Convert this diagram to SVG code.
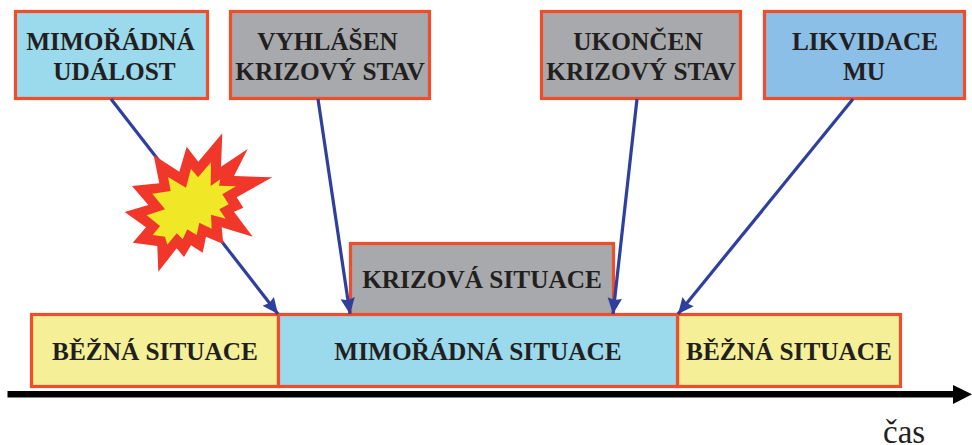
<svg xmlns="http://www.w3.org/2000/svg" width="972" height="445" viewBox="0 0 972 445">
<style>
.box{stroke:#f04e2b;stroke-width:3.2}
.t{font-family:"Liberation Serif","Times New Roman",serif;font-weight:700;font-size:25.300px;fill:#231f20;text-anchor:middle}
.c{stroke:#2e3f9e;stroke-width:3.200;fill:none;marker-end:url(#a)}
</style>
<defs>
<marker id="a" markerUnits="userSpaceOnUse" markerWidth="17" markerHeight="16" refX="16" refY="8" orient="auto"><path d="M0 0.800L16 8L0 15.200L2 8Z" fill="#2e3f9e"/></marker>
</defs>
<rect width="972" height="445" fill="#fff"/>
<g id="n-krizova">
<rect class="box" x="350.500" y="243.500" width="263" height="74" fill="#a7a9ac"/>
<text class="t" x="482" y="288">KRIZOVÁ SITUACE</text>
</g>
<g id="n-bezna1">
<rect class="box" x="31.500" y="314.500" width="247" height="72" fill="#f5f097"/>
<text class="t" x="155" y="359.500">BĚŽNÁ SITUACE</text>
</g>
<g id="n-bezna2">
<rect class="box" x="677.500" y="314.500" width="223" height="72" fill="#f5f097"/>
<text class="t" x="789" y="359.500">BĚŽNÁ SITUACE</text>
</g>
<g id="n-mimoradna">
<rect class="box" x="278.500" y="314.500" width="399" height="72" fill="#9bd9ec"/>
<text class="t" x="478" y="359.500">MIMOŘÁDNÁ SITUACE</text>
</g>
<g id="n-udalost">
<rect class="box" x="15.500" y="11.500" width="192" height="87" fill="#9bd9ec"/>
<text class="t" x="110.500" y="50">MIMOŘÁDNÁ</text>
<text class="t" x="114.500" y="80">UDÁLOST</text>
</g>
<g id="n-vyhlasen">
<rect class="box" x="230.500" y="11.500" width="199" height="87" fill="#a7a9ac"/>
<text class="t" x="327.500" y="50">VYHLÁŠEN</text>
<text class="t" x="330" y="80">KRIZOVÝ STAV</text>
</g>
<g id="n-ukoncen">
<rect class="box" x="541.500" y="11.500" width="199" height="87" fill="#a7a9ac"/>
<text class="t" x="638" y="50">UKONČEN</text>
<text class="t" x="641" y="80">KRIZOVÝ STAV</text>
</g>
<g id="n-likvidace">
<rect class="box" x="764.500" y="11.500" width="200" height="87" fill="#8cbfe8"/>
<text class="t" x="865" y="50">LIKVIDACE</text>
<text class="t" x="864" y="80">MU</text>
</g>
<g id="connectors">
<path class="c" d="M111 99L278 314"/>
<path class="c" d="M318 99L350 314"/>
<path class="c" d="M637 99L613 314"/>
<path class="c" d="M853 99L678 314"/>
</g>
<g id="n-vybuch">
<polygon fill="#f1362a" points="153.700,155.300 160,159.300 179.300,171.700 186.700,146.700 198.300,161.700 222.300,133.300 221,166.700 247.700,149 234,176 272.300,177.300 236.700,197.300 243.300,207.700 234,211.700 252.700,236.700 221.700,227.300 223.300,244 206,236.700 202.700,252.700 191,245.300 184,257 176.700,248.300 158.300,271.700 157.300,246 132.700,242.700 146,227.300 124.700,212 148.300,205 132,186 159.300,183.300"/>
<polygon fill="#f0e726" points="168,177 186,187.700 191,168.700 198,177.300 211,162.300 210.700,186 220.300,179.300 219,185.700 236,186.300 222.300,194.300 228.700,204.300 219.300,209.300 225.700,218.700 211,214.700 211.700,228.700 199.300,222.700 196.700,235 187.300,229.300 182.700,239.300 176.700,233.300 167.300,244.700 165,236.700 152.700,235 160,226 146.700,215.300 165,209.300 152.300,193.700 170.700,191"/>
</g>
<g id="n-osa">
<rect x="7.500" y="391" width="946" height="6.500" fill="#000"/>
<polygon points="953,385 972,394.300 953,404" fill="#000"/>
<text x="883" y="443" font-family="'Liberation Serif','Times New Roman',serif" font-size="33" fill="#231f20">čas</text>
</g>
</svg>
